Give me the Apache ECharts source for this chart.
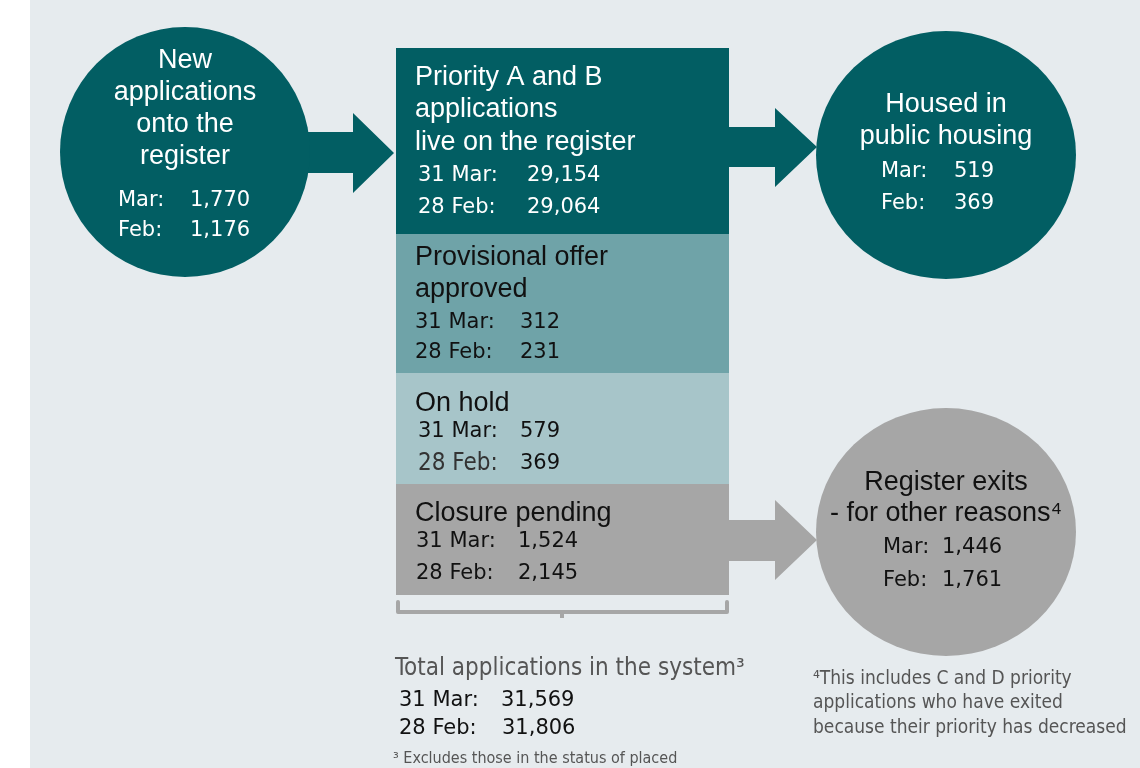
<!DOCTYPE html>
<html>
<head>
<meta charset="utf-8">
<title>Register flow</title>
<script src="https://cdn.jsdelivr.net/npm/echarts@6/dist/echarts.min.js"></script>
<style>
  html, body { margin: 0; padding: 0; background: #ffffff; }
  #main { width: 1140px; height: 768px; }
</style>
</head>
<body>
<div id="main"></div>
<script>
  // stages that make up the register (stacked box in the middle)
  var stageNames = [
    ['Priority A and B', 'applications', 'live on the register'],
    ['Provisional offer', 'approved'],
    ['On hold'],
    ['Closure pending']
  ];
  var stageMar = [29154, 312, 579, 1524];
  var stageFeb = [29064, 231, 369, 2145];

  // flows into / out of the register (circles)
  var flowNames = [
    ['New', 'applications', 'onto the', 'register'],
    ['Housed in', 'public housing'],
    ['Register exits', '- for other reasons\u2074']
  ];
  var flowMar = [1770, 519, 1446];
  var flowFeb = [1176, 369, 1761];

  var totalMar = 31569;
  var totalFeb = 31806;

  var dateLabels = ['31 Mar:', '28 Feb:'];
  var monthLabels = ['Mar:', 'Feb:'];
  var totalTitle = 'Total applications in the system\u00b3';
  var noteTotal = '\u00b3 Excludes those in the status of placed';
  var noteExits = ['\u2074This includes C and D priority', 'applications who have exited', 'because their priority has decreased'];

  var TITLE_FONT = "'Liberation Sans', Arial, sans-serif";
  var NUM_FONT = "'DejaVu Sans', Verdana, sans-serif";
  var NARROW_FONT = "'Liberation Sans Narrow', 'DejaVu Sans Condensed', 'Liberation Sans', sans-serif";

  var DARK = '#025e63';
  var stageColors = ['#025e63', '#6fa3a8', '#a7c5c9', '#a6a6a6'];
  var stageText = ['#ffffff', '#111111', '#111111', '#111111'];
  var GREY = '#a6a6a6';

  function fmt(v) { return v.toLocaleString('en-US'); }

  function txt(x, y, s, size, color, font, align) {
    return {
      type: 'text', x: x, y: y, z: 10,
      style: {
        text: s, fill: color, fontSize: size, fontFamily: font,
        align: align || 'left', verticalAlign: 'middle'
      }
    };
  }

  var els = [];
  // background panel
  els.push({ type: 'rect', shape: { x: 30, y: 0, width: 1110, height: 768 }, style: { fill: '#e6ebee' } });

  // arrows
  els.push({ type: 'polygon', shape: { points: [[290, 132], [353, 132], [353, 113], [394, 153], [353, 193], [353, 173], [290, 173]] }, style: { fill: DARK } });
  els.push({ type: 'polygon', shape: { points: [[729, 127], [775, 127], [775, 108], [817, 147], [775, 187], [775, 167], [729, 167]] }, style: { fill: DARK } });
  els.push({ type: 'polygon', shape: { points: [[729, 520], [775, 520], [775, 500], [817, 540], [775, 580], [775, 561], [729, 561]] }, style: { fill: GREY } });

  // circles
  var circles = [
    { cx: 185, cy: 152, rx: 125, ry: 125, color: DARK, text: '#ffffff',
      titleY: [61, 93, 125, 157], rowY: [201, 231], labelX: 118, valueX: 190 },
    { cx: 946, cy: 155, rx: 130, ry: 124, color: DARK, text: '#ffffff',
      titleY: [105, 137], rowY: [172, 204], labelX: 881, valueX: 954 },
    { cx: 946, cy: 532, rx: 130, ry: 124, color: GREY, text: '#111111',
      titleY: [483, 514], rowY: [548, 581], labelX: 883, valueX: 942 }
  ];
  circles.forEach(function (c, i) {
    els.push({ type: 'circle', x: c.cx, y: c.cy, scaleY: c.ry / c.rx, shape: { cx: 0, cy: 0, r: c.rx }, style: { fill: c.color } });
    flowNames[i].forEach(function (line, k) {
      els.push(txt(c.cx, c.titleY[k], line, 27, c.text, TITLE_FONT, 'center'));
    });
    els.push(txt(c.labelX, c.rowY[0], monthLabels[0], 21, c.text, NUM_FONT));
    els.push(txt(c.valueX, c.rowY[0], fmt(flowMar[i]), 21, c.text, NUM_FONT));
    els.push(txt(c.labelX, c.rowY[1], monthLabels[1], 21, c.text, NUM_FONT));
    els.push(txt(c.valueX, c.rowY[1], fmt(flowFeb[i]), 21, c.text, NUM_FONT));
  });

  // stacked register box
  var segEdges = [48, 234, 373, 484, 595];
  var segLayout = [
    { titleY: [78, 110, 143], rowY: [176, 208], labelX: 418, valueX: 527 },
    { titleY: [258, 290], rowY: [323, 353], labelX: 415, valueX: 520 },
    { titleY: [404], rowY: [432, 464], labelX: 418, valueX: 520 },
    { titleY: [514], rowY: [542, 574], labelX: 416, valueX: 518 }
  ];
  stageNames.forEach(function (names, i) {
    var L = segLayout[i];
    els.push({ type: 'rect', shape: { x: 396, y: segEdges[i], width: 333, height: segEdges[i + 1] - segEdges[i] }, style: { fill: stageColors[i] } });
    names.forEach(function (line, k) {
      els.push(txt(415, L.titleY[k], line, 27, stageText[i], TITLE_FONT));
    });
    els.push(txt(L.labelX, L.rowY[0], dateLabels[0], 21, stageText[i], NUM_FONT));
    els.push(txt(L.valueX, L.rowY[0], fmt(stageMar[i]), 21, stageText[i], NUM_FONT));
    if (i === 2) {
      els.push(txt(L.labelX, L.rowY[1], dateLabels[1], 24, '#333333', NARROW_FONT));
    } else {
      els.push(txt(L.labelX, L.rowY[1], dateLabels[1], 21, stageText[i], NUM_FONT));
    }
    els.push(txt(L.valueX, L.rowY[1], fmt(stageFeb[i]), 21, stageText[i], NUM_FONT));
  });

  // bracket under the box
  els.push({ type: 'polyline', shape: { points: [[398, 602], [398, 612], [727, 612], [727, 602]] }, style: { stroke: GREY, lineWidth: 4, lineJoin: 'round', lineCap: 'round', fill: null } });
  els.push({ type: 'line', shape: { x1: 562, y1: 612, x2: 562, y2: 618 }, style: { stroke: GREY, lineWidth: 4 } });

  // totals
  els.push(txt(395, 669, totalTitle, 24, '#555555', NARROW_FONT));
  els.push(txt(399, 701, dateLabels[0], 21, '#111111', NUM_FONT));
  els.push(txt(501, 701, fmt(totalMar), 21, '#111111', NUM_FONT));
  els.push(txt(399, 729, dateLabels[1], 21, '#111111', NUM_FONT));
  els.push(txt(502, 729, fmt(totalFeb), 21, '#111111', NUM_FONT));
  els.push(txt(393, 759, noteTotal, 16, '#555555', NARROW_FONT));

  // footnote for exits
  noteExits.forEach(function (line, k) {
    els.push(txt(813, 679 + k * 24.5, line, 19, '#555555', NARROW_FONT));
  });

  var myChart = echarts.init(document.getElementById('main'), null, { renderer: 'canvas' });
  myChart.setOption({
    animation: false,
    graphic: { elements: els }
  });
</script>
</body>
</html>
